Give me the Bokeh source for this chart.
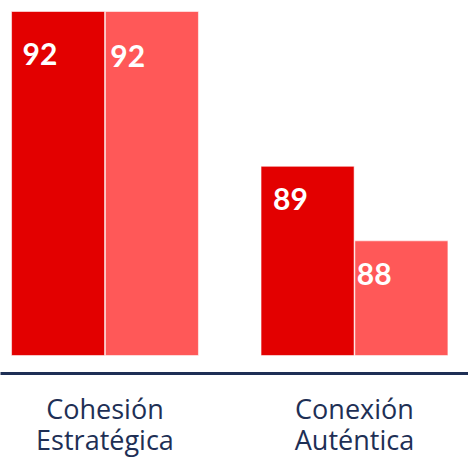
from bokeh.plotting import figure
from bokeh.models import Range1d, FixedTicker, ColumnDataSource
from bokeh.transform import dodge
from bokeh.core.properties import value
from bokeh.embed import file_html
from bokeh.resources import INLINE

# ---- data ----
categories = ["Cohesión\nEstratégica", "Conexión\nAuténtica"]
group_index = [0, 1]
series_a = [92.0, 89.3]
series_b = [92.0, 88.0]
labels_a = ["92", "89"]
labels_b = ["92", "88"]
baseline = 86.0

# ---- style ----
dark_red = "#E30000"
light_red = "#FF5858"
navy = "#1E2F55"
bar_w = 0.373
shift = 0.188
label_dx_a = [11, 12]
label_dy_a = [42, 33]
label_dx_b = [5, 2]
label_dy_b = [44, 33]

src = ColumnDataSource(dict(
    x=group_index, a=series_a, b=series_b, base=[baseline] * len(group_index),
    la=labels_a, lb=labels_b,
    dxa=label_dx_a, dya=label_dy_a, dxb=label_dx_b, dyb=label_dy_b,
))

p = figure(frame_width=468, frame_height=373,
           x_range=Range1d(-0.4188, 1.457), y_range=Range1d(85.686, 92.192),
           output_backend="svg", toolbar_location=None,
           min_border_left=0, min_border_right=0, min_border_top=0, min_border_bottom=0)
p.background_fill_color = "white"
p.border_fill_color = "white"
p.outline_line_color = None
p.grid.visible = False
p.yaxis.visible = False

p.vbar(x=dodge("x", -shift, range=p.x_range), top="a", bottom="base", width=bar_w,
       source=src, fill_color=dark_red, line_color="white", line_alpha=0.55, line_width=1)
p.vbar(x=dodge("x", shift, range=p.x_range), top="b", bottom="base", width=bar_w,
       source=src, fill_color=light_red, line_color="white", line_alpha=0.55, line_width=1)

p.text(x=dodge("x", -shift - bar_w / 2, range=p.x_range), y="a", text="la", source=src,
       x_offset="dxa", y_offset="dya", text_align="left", text_baseline="alphabetic",
       text_color="white", text_font=value("Lato"), text_font_style="bold",
       text_font_size="30px")
p.text(x=dodge("x", shift - bar_w / 2, range=p.x_range), y="b", text="lb", source=src,
       x_offset="dxb", y_offset="dyb", text_align="left", text_baseline="alphabetic",
       text_color="white", text_font=value("Lato"), text_font_style="bold",
       text_font_size="30px")

ax = p.xaxis[0]
ax.ticker = FixedTicker(ticks=group_index)
ax.major_label_overrides = {i: c for i, c in zip(group_index, categories)}
ax.axis_line_color = navy
ax.axis_line_width = 3
ax.major_tick_line_color = None
ax.minor_tick_line_color = None
ax.major_tick_out = 0
ax.major_tick_in = 0
ax.major_label_standoff = 16
ax.major_label_text_font = "Open Sans"
ax.major_label_text_font_size = "27px"
ax.major_label_text_color = navy
ax.major_label_text_line_height = 0.85

open("out.html", "w").write(file_html(p, INLINE))
